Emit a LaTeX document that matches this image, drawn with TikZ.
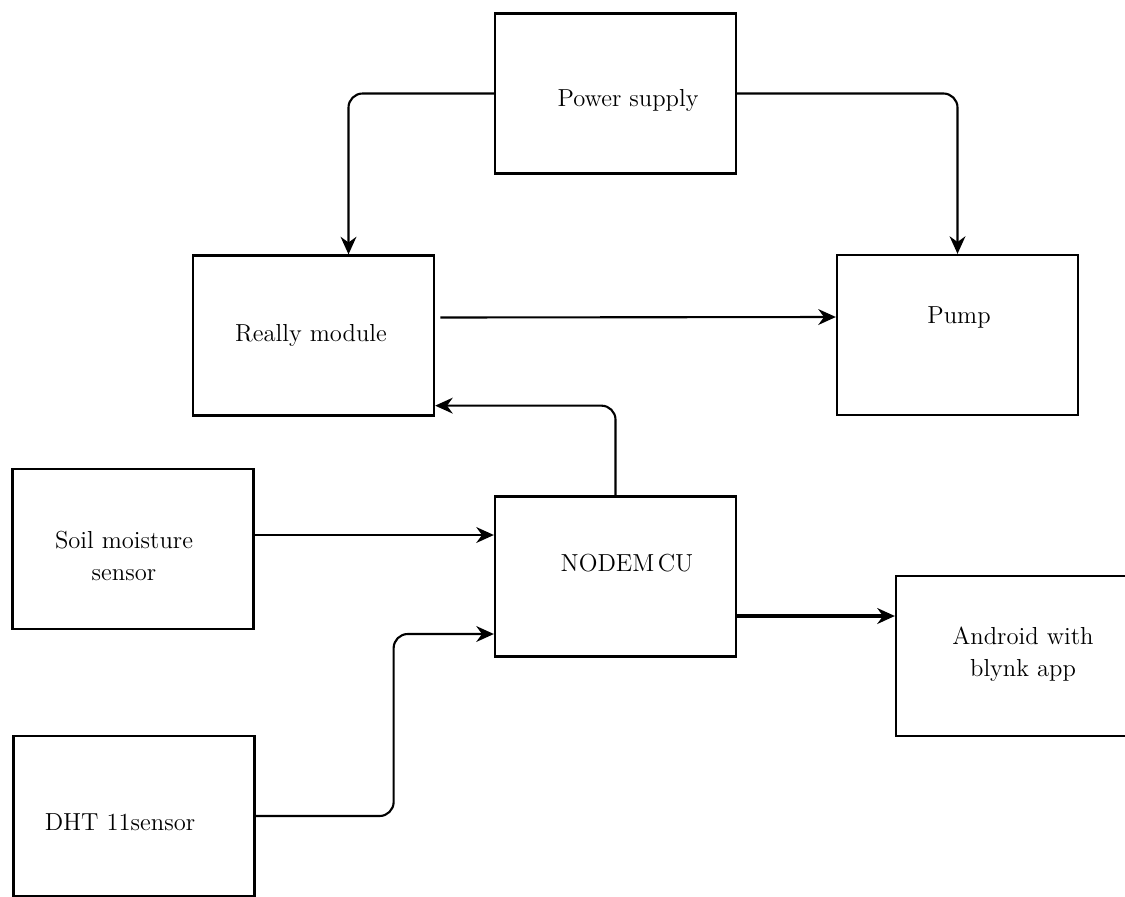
\documentclass[tikz,border=0pt]{standalone}
\usetikzlibrary{arrows.meta}

\tikzset{
  block/.style={draw, line width=1.3pt, minimum width=4.82cm, minimum height=3.2cm, inner sep=0pt},
  txt/.style={font=\fontsize{14}{18}\selectfont, align=center, inner sep=0pt},
  flow/.style={line width=1.2pt, -{Stealth[length=10pt,width=9pt]}, rounded corners=8pt},
}

\begin{document}
\begin{tikzpicture}
    \useasboundingbox (0,0) rectangle (22.5,-17.92);

    % Boxes
    \node[block] (power)   at (12.31,-1.87)  {};
    \node[block] (relay)   at (6.27,-6.71)   {};
    \node[block] (pump)    at (19.15,-6.70)  {};
    \node[block] (soil)    at (2.66,-10.98)  {};
    \node[block] (mcu)     at (12.31,-11.53) {};
    \node[block] (android) at (20.33,-13.12) {};
    \node[block] (dht)     at (2.68,-16.32)  {};

    % Labels
    \node[txt] (powertxt)   at (12.56,-2.00)  {Power supply};
    \node[txt] (relaytxt)   at (6.22,-6.70)   {Really module};
    \node[txt] (pumptxt)    at (19.18,-6.34)  {Pump};
    \node[txt] (soiltxt)    at (2.48,-11.12)  {Soil moisture\\sensor};
    \node[txt] (mcutxt)     at (12.54,-11.26) {NODEM\kern2pt CU};
    \node[txt] (androidtxt) at (20.46,-13.08) {Android with\\blynk app};
    \node[txt] (dhttxt)     at (2.40,-16.44)  {DHT 11sensor};

    % Arrows
    \draw[flow] (power.west) -| ([xshift=0.7cm]relay.north);
    \draw[flow] (power.east) -| (pump.north);
    \draw[flow, shorten <=3pt] ([yshift=0.36cm]relay.east) -- ([yshift=0.36cm]pump.west);
    \draw[flow] (mcu.north) |- ([yshift=0.22cm]relay.south east);
    \draw[flow] ([yshift=0.28cm]soil.east) -- ([yshift=0.28cm]soil.east -| mcu.west);
    \draw[flow] (dht.east) -- ++(2.76,0) |- ([yshift=-1.15cm]mcu.west);
    \draw[flow, line width=2.4pt] ([yshift=-0.79cm]mcu.east) -- ([yshift=-0.79cm]mcu.east -| android.west);
\end{tikzpicture}
\end{document}
